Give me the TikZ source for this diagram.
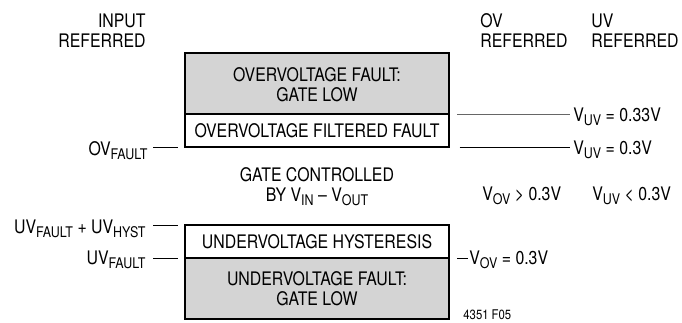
\documentclass[tikz,border=0pt]{standalone}
\usepackage{fontspec}
\setmainfont[FakeStretch=0.85]{TeX Gyre Heros}
\usetikzlibrary{positioning}
\newcommand{\lo}[1]{\raisebox{-0.4ex}{\fontsize{11}{11}\selectfont #1}}

\begin{document}
\begin{tikzpicture}[x=0.75pt,y=-0.75pt,line width=0.6pt,
  every node/.style={font=\fontsize{14}{15}\selectfont,inner sep=0pt},
  zone/.style={draw,line width=1.7pt,outer sep=0pt,minimum width=198pt,align=center},
  fault/.style={zone,fill=black!17,minimum height=46pt},
  band/.style={zone,fill=white,minimum height=24.75pt},
  lft/.style={anchor=east,align=right},
  rgt/.style={anchor=west,align=left}]
  \useasboundingbox (0,0) rectangle (682,322);

  \node[fault,anchor=north west]  (ovfault) at (185,53)  {\\[-3pt]OVERVOLTAGE FAULT:\\GATE LOW};
  \node[band]                     (ovfilt)  [below=0pt of ovfault] {OVERVOLTAGE FILTERED FAULT};
  \node[band,anchor=north west]   (uvhyst)  at (185,225) {UNDERVOLTAGE HYSTERESIS};
  \node[fault]                    (uvfault) [below=0pt of uvhyst] {UNDERVOLTAGE FAULT:\\GATE LOW};

  \node[lft] (inref) at (146,31)  {INPUT\\REFERRED};
  \node[rgt] (ovref) at (480,31)  {OV\\REFERRED};
  \node[rgt] (uvref) at (591,31)  {UV\\REFERRED};

  \node[lft] (ovf)   at (148,151) {OV\lo{FAULT}};
  \node[lft] (uvfh)  at (146,229) {UV\lo{FAULT} + UV\lo{HYST}};
  \node[lft] (uvf)   at (146,260) {UV\lo{FAULT}};

  \node[align=center] (gate) at (317,187) {GATE CONTROLLED\\BY V\lo{IN} -- V\lo{OUT}};

  \node[rgt] (uv33)  at (573,117) {V\lo{UV} = 0.33V};
  \node[rgt] (uv30)  at (573,150) {V\lo{UV} = 0.3V};
  \node[rgt] (ovgt)  at (482,196) {V\lo{OV} > 0.3V};
  \node[rgt] (uvlt)  at (592,196) {V\lo{UV} < 0.3V};
  \node[rgt] (ov30)  at (469,260) {V\lo{OV} = 0.3V};
  \node[rgt,font=\fontsize{10}{10}\selectfont] (fig) at (463,315) {4351 F05};

  \draw ([xshift=-24pt]ovfilt.south west) -- ([xshift=-5.25pt]ovfilt.south west);
  \draw ([xshift=-24pt]uvhyst.north west) -- ([xshift=-5.25pt]uvhyst.north west);
  \draw ([xshift=-24pt]uvhyst.south west) -- ([xshift=-5.25pt]uvhyst.south west);
  \draw[black!60] ([xshift=6pt]ovfault.south east) -- ([xshift=-2pt]ovfault.south east -| uv33.west);
  \draw ([xshift=8pt]ovfilt.south east) -- ([xshift=-2pt]ovfilt.south east -| uv30.west);
  \draw ([xshift=6pt]uvhyst.south east) -- ([xshift=-0.5pt]uvhyst.south east -| ov30.west);
\end{tikzpicture}
\end{document}
